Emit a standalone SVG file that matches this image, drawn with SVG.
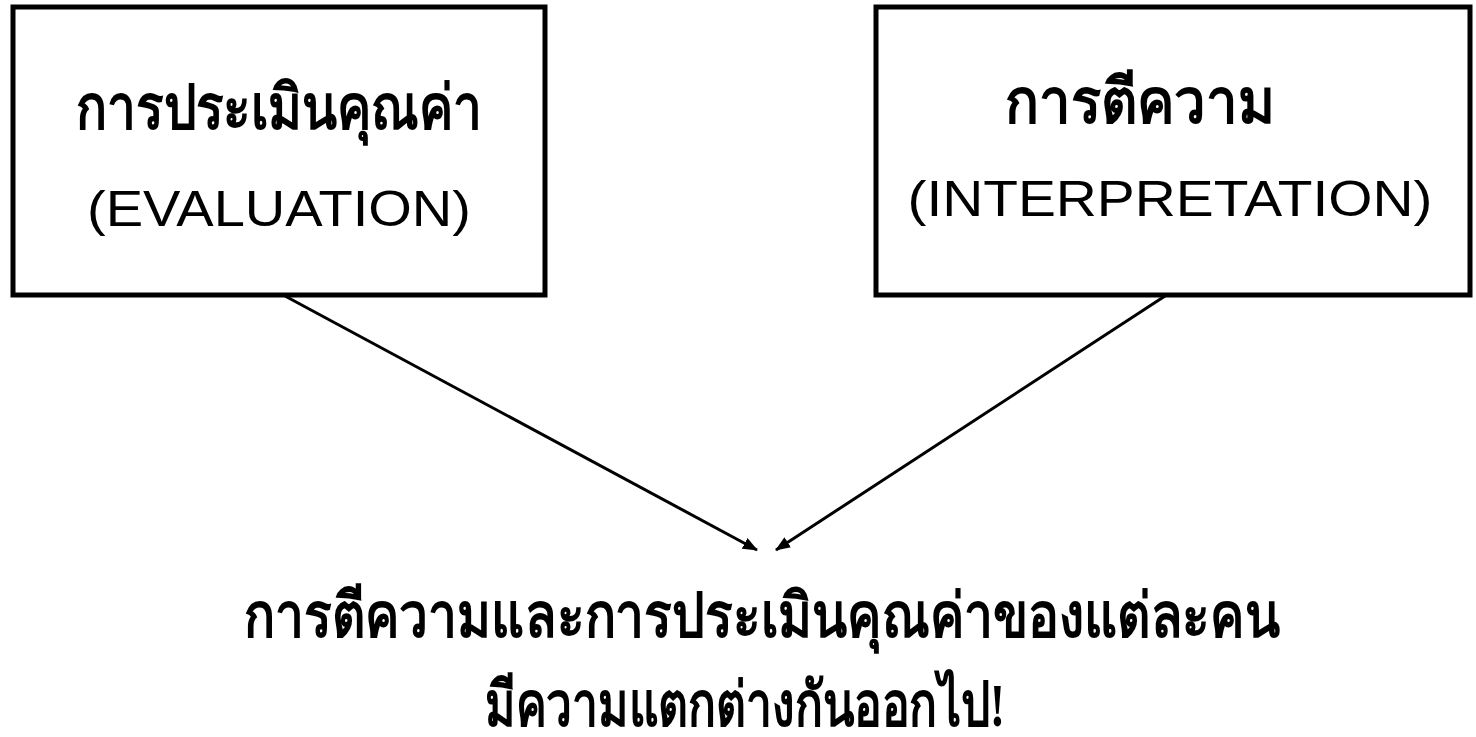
<svg xmlns="http://www.w3.org/2000/svg" width="1476" height="737" viewBox="0 0 1476 737">
<defs>
<style>
.box{fill:#fff;stroke:#000;stroke-width:5}
.th{font-family:"Liberation Serif","Noto Sans",serif;font-weight:bold;font-size:62px;fill:#000;text-anchor:middle}
.en{font-family:"Liberation Sans",Arial,sans-serif;font-size:50px;fill:#000;text-anchor:middle}
.conn{stroke:#000;stroke-width:3;fill:none}
</style>
<marker id="arr" markerWidth="15" markerHeight="12" refX="14" refY="6" orient="auto" markerUnits="userSpaceOnUse">
<path d="M0,0 L15,6 L0,12 z" fill="#000"/>
</marker>
</defs>
<rect width="1476" height="737" fill="#fff"/>
<g id="connectors">
<line class="conn" x1="285" y1="296" x2="757" y2="550" marker-end="url(#arr)"/>
<line class="conn" x1="1165" y1="296" x2="776" y2="550" marker-end="url(#arr)"/>
</g>
<g id="evaluation">
<rect class="box" x="13" y="7" width="532" height="288"/>
<text class="th" x="279" y="129" textLength="406" lengthAdjust="spacingAndGlyphs">การประเมินคุณค่า</text>
<text class="en" x="279" y="226" textLength="384" lengthAdjust="spacingAndGlyphs">(EVALUATION)</text>
</g>
<g id="interpretation">
<rect class="box" x="876" y="7" width="594" height="288"/>
<text class="th" x="1140" y="123" textLength="270" lengthAdjust="spacingAndGlyphs">การตีความ</text>
<text class="en" x="1170" y="216" textLength="525" lengthAdjust="spacingAndGlyphs">(INTERPRETATION)</text>
</g>
<g id="conclusion">
<text class="th" transform="translate(762,637) scale(0.83,1)" x="0" y="0">การตีความและการประเมินคุณค่าของแต่ละคน</text>
<text class="th" x="745" y="726" textLength="520" lengthAdjust="spacingAndGlyphs">มีความแตกต่างกันออกไป!</text>
</g>
</svg>
